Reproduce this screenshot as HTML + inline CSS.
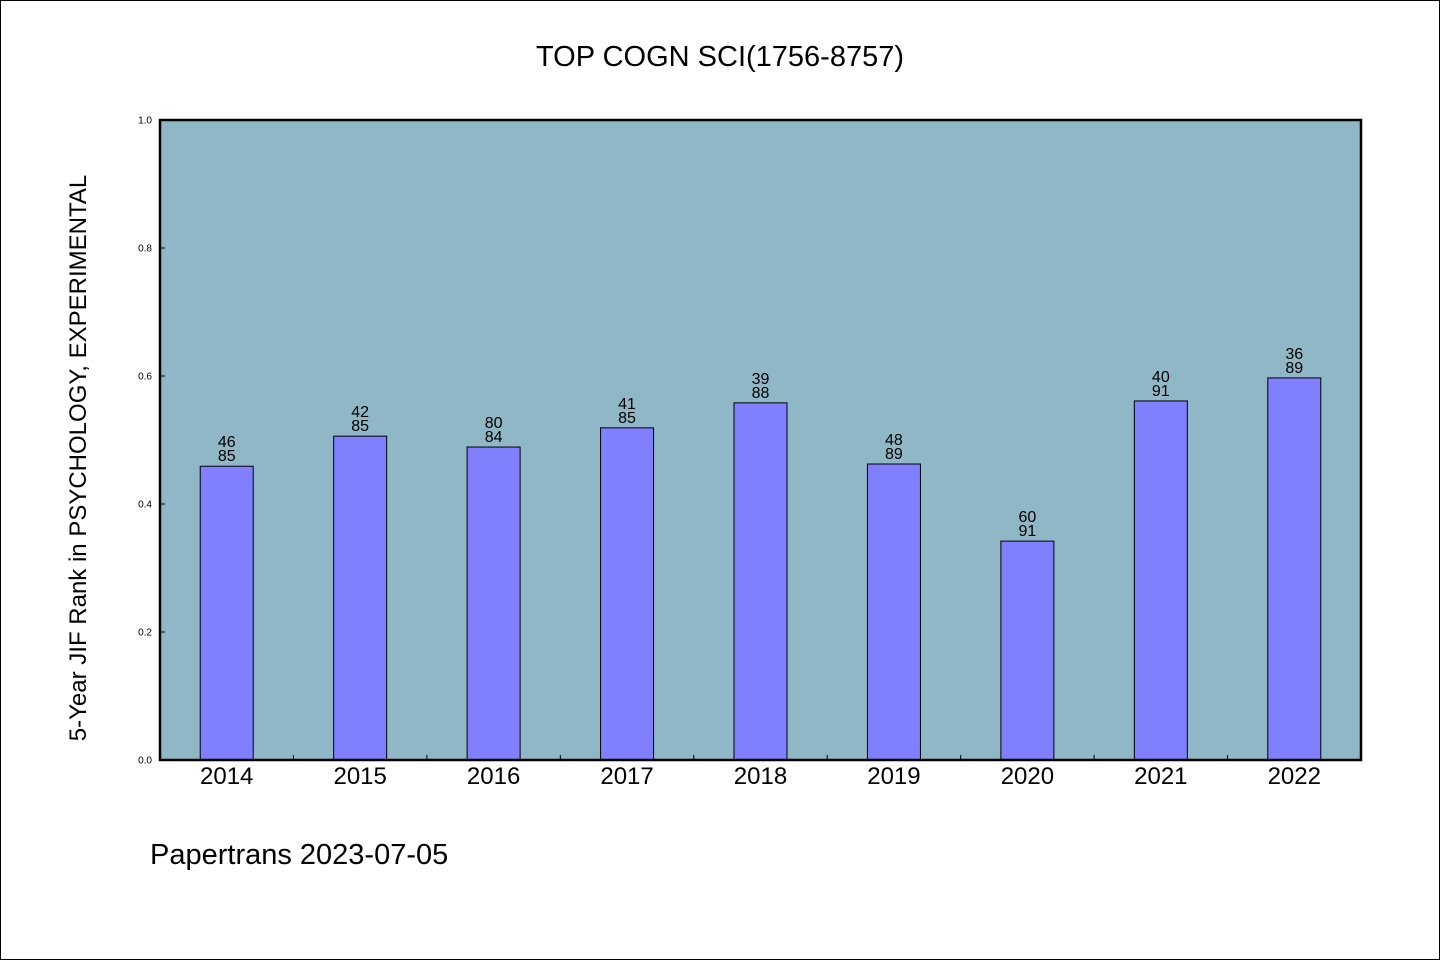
<!DOCTYPE html>
<html><head><meta charset="utf-8"><style>
html,body{margin:0;padding:0;background:#fff}
svg{display:block}
text{font-family:"Liberation Sans","WenQuanYi Zen Hei",sans-serif;fill:#000}
</style></head><body>
<svg id="chart" width="1440" height="960" viewBox="0 0 1440 960">
<rect x="0.5" y="0.5" width="1439" height="959" fill="#fff" stroke="#000"/>
<text x="720" y="66" font-size="29" text-anchor="middle">TOP COGN SCI(1756-8757)</text>
<rect x="160" y="120" width="1201" height="640" fill="#8fb7c6"/>
<g id="bars"></g>
<g id="yaxis"></g>
<g id="xaxis"></g>
<rect x="160" y="120" width="1201" height="640" fill="none" stroke="#000" stroke-width="2.5"/>
<text transform="translate(86,458) rotate(-90)" font-size="24" text-anchor="middle">5-Year JIF Rank in PSYCHOLOGY, EXPERIMENTAL</text>
<text x="150" y="864" font-size="29">Papertrans 2023-07-05</text>
</svg>
<script>
const years = ["2014","2015","2016","2017","2018","2019","2020","2021","2022"];
const values = [0.459,0.506,0.489,0.519,0.558,0.4625,0.342,0.561,0.597];
const ranks = ["46","42","80","41","39","48","60","40","36"];
const totals = ["85","85","84","85","88","89","91","91","89"];
const yTicks = ["0.0","0.2","0.4","0.6","0.8","1.0"];
const NS="http://www.w3.org/2000/svg";
const X0=160,W=1201,Y0=760,H=640;
const step=W/years.length;
const xc=i=>X0+step*(i+0.5);
const y=v=>Y0-v*H;
function mk(tag,attrs,parent){const e=document.createElementNS(NS,tag);for(const k in attrs)e.setAttribute(k,attrs[k]);parent.appendChild(e);return e;}
const bars=document.getElementById('bars'),ya=document.getElementById('yaxis'),xa=document.getElementById('xaxis');
years.forEach((yr,i)=>{
  const r=mk('rect',{x:xc(i)-26.5,y:y(values[i]),width:53,height:Y0-y(values[i]),fill:'#8080ff',stroke:'#000','stroke-width':1},bars);
  
  
  const t1=mk('text',{x:xc(i),y:y(values[i])-19,'font-size':16,'text-anchor':'middle'},bars);t1.textContent=ranks[i];
  
  
  const t2=mk('text',{x:xc(i),y:y(values[i])-5,'font-size':16,'text-anchor':'middle'},bars);t2.textContent=totals[i];
  
  
  const xl=mk('text',{x:xc(i),y:784,'font-size':24,'text-anchor':'middle'},xa);xl.textContent=yr;
  
  
  if(i>0){const tk=mk('line',{x1:X0+step*i,x2:X0+step*i,y1:Y0,y2:Y0-5,stroke:'#000'},xa);
  
  }
});
yTicks.forEach(lbl=>{
  const v=parseFloat(lbl);
  const tk=mk('line',{x1:X0,x2:X0+5,y1:y(v),y2:y(v),stroke:'#000'},ya);
  
  
  const t=mk('text',{x:152,y:y(v)+3.5,'font-size':10,'text-anchor':'end'},ya);t.textContent=lbl;
  
  
});
</script>
</body></html>
